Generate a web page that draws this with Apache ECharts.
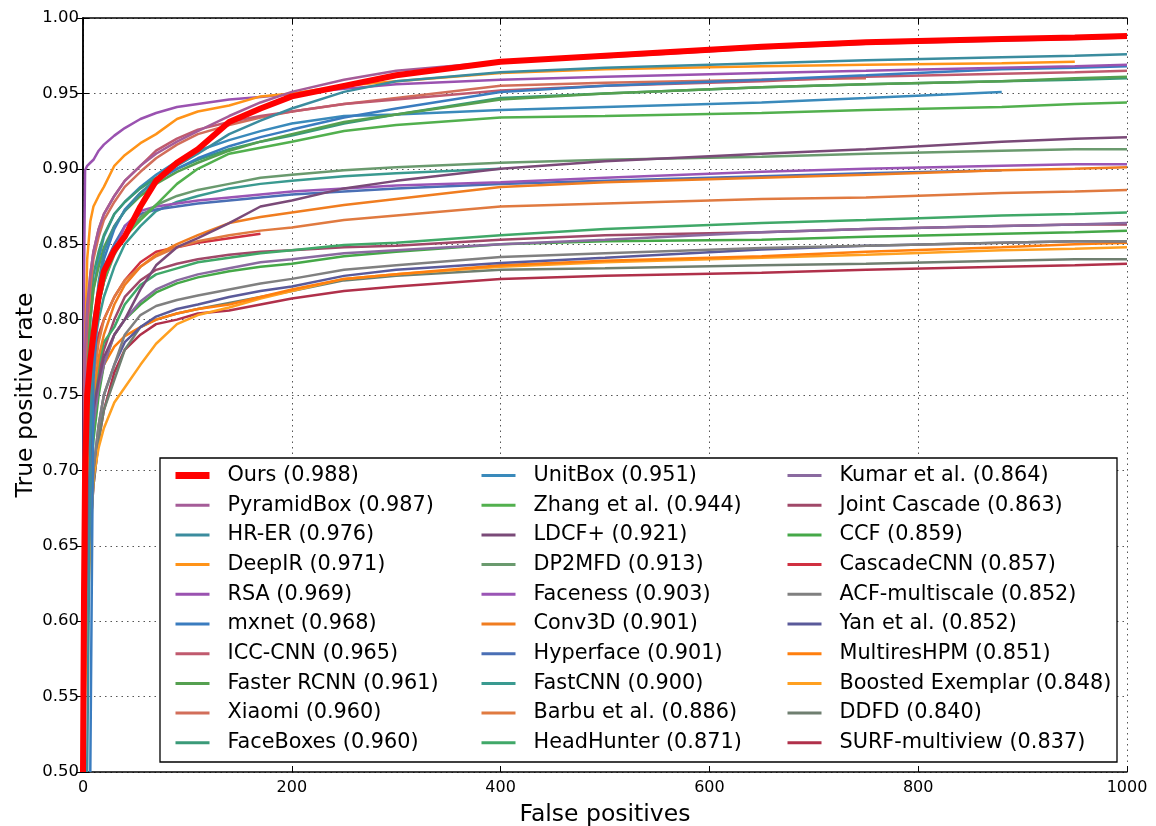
<!DOCTYPE html>
<html>
<head>
<meta charset="utf-8">
<script src="https://cdn.jsdelivr.net/npm/echarts@6/dist/echarts.min.js"></script>
<style>
html, body { margin: 0; padding: 0; background: #fff; }
#chart { width: 1156px; height: 826px; }
</style>
</head>
<body>
<div id="chart"></div>
<script>
var fpGrid = [0, 1, 2, 4, 7, 10, 15, 20, 30, 40, 55, 70, 90, 110, 140, 170, 200, 250, 300, 400, 500, 650, 750, 880, 950, 1000];

var methodNames = ['Ours', 'PyramidBox', 'HR-ER', 'DeepIR', 'RSA', 'mxnet', 'ICC-CNN', 'Faster RCNN', 'Xiaomi', 'FaceBoxes',
    'UnitBox', 'Zhang et al.', 'LDCF+', 'DP2MFD', 'Faceness', 'Conv3D', 'Hyperface', 'FastCNN', 'Barbu et al.', 'HeadHunter',
    'Kumar et al.', 'Joint Cascade', 'CCF', 'CascadeCNN', 'ACF-multiscale', 'Yan et al.', 'MultiresHPM', 'Boosted Exemplar', 'DDFD', 'SURF-multiview'];
var scores = ['0.988', '0.987', '0.976', '0.971', '0.969', '0.968', '0.965', '0.961', '0.960', '0.960',
    '0.951', '0.944', '0.921', '0.913', '0.903', '0.901', '0.901', '0.900', '0.886', '0.871',
    '0.864', '0.863', '0.859', '0.857', '0.852', '0.852', '0.851', '0.848', '0.840', '0.837'];
var colors = ['#ff0000', '#a55c98', '#3b8c9e', '#ff9318', '#9a52b0', '#3a7cbf', '#c05a6e', '#55a050', '#d26e5a', '#3a9a78',
    '#3a8abb', '#52b04e', '#7a4a78', '#6a9a6e', '#9a55b5', '#f07d20', '#4a6fb5', '#3a9a90', '#e07a40', '#40a868',
    '#8a6aa0', '#a04868', '#45a848', '#d03040', '#808080', '#5a5a9a', '#ff7f0e', '#ffa020', '#6f7f70', '#b0304a'];

var tprOurs        = [0.50, 0.62, 0.70, 0.75, 0.773, 0.79, 0.815, 0.832, 0.846, 0.855, 0.875, 0.892, 0.904, 0.913, 0.931, 0.940, 0.948, 0.955, 0.962, 0.971, 0.975, 0.981, 0.984, 0.986, 0.987, 0.988];
var tprPyramidBox  = [0.50, 0.72, 0.78, 0.81, 0.83, 0.845, 0.86, 0.87, 0.882, 0.892, 0.902, 0.91, 0.918, 0.925, 0.935, 0.944, 0.951, 0.959, 0.965, 0.971, 0.974, 0.980, 0.983, 0.985, 0.986, 0.987];
var tprHRER        = [null, null, null, 0.50, 0.72, 0.79, 0.825, 0.845, 0.862, 0.872, 0.884, 0.893, 0.902, 0.91, 0.923, 0.932, 0.94, 0.951, 0.958, 0.964, 0.967, 0.970, 0.972, 0.974, 0.975, 0.976];
var tprDeepIR      = [0.50, 0.70, 0.78, 0.84, 0.865, 0.875, 0.882, 0.888, 0.902, 0.909, 0.917, 0.923, 0.933, 0.938, 0.942, 0.948, 0.950, 0.955, 0.958, 0.9635, 0.966, 0.968, 0.969, 0.970, 0.971, null];
var tprRSA         = [0.50, 0.83, 0.899, 0.902, 0.904, 0.906, 0.912, 0.916, 0.922, 0.927, 0.933, 0.937, 0.941, 0.943, 0.946, 0.9476, 0.9496, 0.953, 0.956, 0.959, 0.961, 0.9635, 0.965, 0.967, 0.968, 0.969];
var tprMxnet       = [null, null, null, null, 0.50, 0.76, 0.815, 0.84, 0.86, 0.873, 0.884, 0.892, 0.90, 0.907, 0.915, 0.921, 0.926, 0.934, 0.94, 0.951, 0.955, 0.959, 0.962, 0.966, 0.967, 0.968];
var tprICCCNN      = [0.50, 0.70, 0.76, 0.80, 0.83, 0.845, 0.86, 0.87, 0.882, 0.892, 0.902, 0.912, 0.92, 0.926, 0.931, 0.935, 0.938, 0.943, 0.946, 0.952, 0.955, 0.958, 0.961, 0.963, 0.964, 0.965];
var tprFasterRCNN  = [0.50, 0.62, 0.70, 0.76, 0.80, 0.82, 0.835, 0.848, 0.862, 0.872, 0.882, 0.89, 0.898, 0.904, 0.912, 0.918, 0.923, 0.931, 0.936, 0.946, 0.950, 0.954, 0.956, 0.958, 0.960, 0.961];
var tprXiaomi      = [0.50, 0.68, 0.74, 0.79, 0.82, 0.84, 0.855, 0.866, 0.878, 0.888, 0.898, 0.907, 0.916, 0.923, 0.929, 0.934, 0.938, 0.943, 0.947, 0.955, 0.957, 0.959, 0.960, null, null, null];
var tprFaceBoxes   = [0.50, 0.64, 0.72, 0.78, 0.81, 0.83, 0.845, 0.856, 0.87, 0.878, 0.887, 0.894, 0.90, 0.906, 0.913, 0.918, 0.922, 0.93, 0.936, 0.947, 0.950, 0.954, 0.956, 0.958, 0.959, 0.960];
var tprUnitBox     = [0.50, 0.60, 0.68, 0.75, 0.80, 0.82, 0.84, 0.855, 0.87, 0.878, 0.888, 0.896, 0.905, 0.912, 0.919, 0.925, 0.93, 0.935, 0.936, 0.939, 0.941, 0.944, 0.947, 0.951, null, null];
var tprZhang       = [0.50, 0.60, 0.66, 0.72, 0.76, 0.785, 0.81, 0.825, 0.845, 0.855, 0.866, 0.876, 0.89, 0.90, 0.91, 0.914, 0.918, 0.925, 0.929, 0.934, 0.935, 0.937, 0.939, 0.941, 0.943, 0.944];
var tprLDCF        = [0.50, 0.55, 0.60, 0.66, 0.71, 0.74, 0.76, 0.775, 0.79, 0.80, 0.82, 0.836, 0.848, 0.854, 0.864, 0.875, 0.879, 0.887, 0.892, 0.900, 0.905, 0.910, 0.913, 0.918, 0.920, 0.921];
var tprDP2MFD      = [0.50, 0.60, 0.66, 0.72, 0.76, 0.79, 0.81, 0.825, 0.843, 0.855, 0.868, 0.876, 0.882, 0.886, 0.89, 0.894, 0.896, 0.899, 0.901, 0.904, 0.906, 0.908, 0.910, 0.912, 0.913, 0.913];
var tprFaceness    = [0.50, 0.60, 0.66, 0.72, 0.76, 0.79, 0.81, 0.825, 0.845, 0.862, 0.872, 0.875, 0.877, 0.879, 0.881, 0.883, 0.885, 0.887, 0.889, 0.891, 0.894, 0.898, 0.90, 0.902, 0.903, 0.903];
var tprConv3D      = [0.50, 0.56, 0.62, 0.68, 0.72, 0.75, 0.775, 0.79, 0.81, 0.823, 0.835, 0.843, 0.85, 0.856, 0.864, 0.868, 0.871, 0.876, 0.880, 0.888, 0.891, 0.894, 0.896, 0.899, 0.900, 0.901];
var tprHyperface   = [0.50, 0.60, 0.67, 0.73, 0.77, 0.80, 0.82, 0.835, 0.85, 0.862, 0.87, 0.873, 0.875, 0.877, 0.879, 0.881, 0.883, 0.885, 0.887, 0.890, 0.892, 0.895, 0.897, 0.899, null, null];
var tprFastCNN     = [0.50, 0.58, 0.64, 0.70, 0.75, 0.78, 0.80, 0.815, 0.835, 0.85, 0.862, 0.872, 0.878, 0.882, 0.887, 0.89, 0.892, 0.895, 0.897, 0.900, null, null, null, null, null, null];
var tprBarbu       = [0.50, 0.56, 0.62, 0.68, 0.73, 0.76, 0.785, 0.80, 0.815, 0.826, 0.835, 0.842, 0.848, 0.852, 0.856, 0.859, 0.861, 0.866, 0.869, 0.875, 0.877, 0.880, 0.881, 0.884, 0.885, 0.886];
var tprHeadHunter  = [0.50, 0.56, 0.61, 0.67, 0.72, 0.745, 0.77, 0.785, 0.795, 0.81, 0.823, 0.83, 0.834, 0.838, 0.841, 0.844, 0.846, 0.8495, 0.851, 0.856, 0.860, 0.864, 0.866, 0.869, 0.870, 0.871];
var tprKumar       = [0.50, 0.55, 0.60, 0.65, 0.70, 0.73, 0.755, 0.77, 0.79, 0.80, 0.812, 0.82, 0.826, 0.83, 0.834, 0.838, 0.84, 0.844, 0.846, 0.850, 0.853, 0.858, 0.860, 0.862, 0.863, 0.864];
var tprJoint       = [0.50, 0.55, 0.60, 0.66, 0.71, 0.74, 0.765, 0.78, 0.80, 0.815, 0.826, 0.833, 0.837, 0.84, 0.843, 0.845, 0.846, 0.848, 0.849, 0.853, 0.856, 0.858, 0.860, 0.862, 0.863, 0.863];
var tprCCF         = [0.50, 0.55, 0.60, 0.65, 0.69, 0.72, 0.75, 0.77, 0.79, 0.80, 0.81, 0.818, 0.824, 0.828, 0.832, 0.835, 0.837, 0.842, 0.845, 0.850, 0.852, 0.853, 0.855, 0.857, 0.858, 0.859];
var tprCascadeCNN  = [0.50, 0.56, 0.62, 0.69, 0.74, 0.77, 0.79, 0.80, 0.815, 0.826, 0.838, 0.845, 0.848, 0.851, 0.854, 0.857, null, null, null, null, null, null, null, null, null, null];
var tprACF         = [0.50, 0.54, 0.58, 0.63, 0.67, 0.70, 0.73, 0.75, 0.77, 0.79, 0.803, 0.809, 0.813, 0.816, 0.82, 0.824, 0.827, 0.833, 0.836, 0.8415, 0.844, 0.8475, 0.849, 0.851, 0.852, 0.852];
var tprYan         = [0.50, 0.54, 0.58, 0.63, 0.67, 0.70, 0.73, 0.75, 0.77, 0.785, 0.795, 0.802, 0.807, 0.81, 0.815, 0.819, 0.822, 0.829, 0.833, 0.8376, 0.841, 0.8465, 0.849, 0.851, 0.852, 0.852];
var tprMultiresHPM = [0.50, 0.55, 0.60, 0.65, 0.70, 0.73, 0.755, 0.77, 0.782, 0.789, 0.795, 0.80, 0.804, 0.807, 0.81, 0.815, 0.82, 0.827, 0.83, 0.836, 0.839, 0.842, 0.845, 0.848, 0.850, 0.851];
var tprBoosted     = [0.50, 0.52, 0.55, 0.60, 0.65, 0.695, 0.715, 0.728, 0.745, 0.755, 0.77, 0.784, 0.797, 0.803, 0.808, 0.814, 0.819, 0.827, 0.83, 0.835, 0.838, 0.841, 0.843, 0.846, 0.847, 0.848];
var tprDDFD        = [0.50, 0.54, 0.58, 0.62, 0.66, 0.69, 0.72, 0.74, 0.76, 0.78, 0.795, 0.80, 0.804, 0.807, 0.811, 0.815, 0.819, 0.826, 0.829, 0.833, 0.834, 0.836, 0.837, 0.839, 0.840, 0.840];
var tprSURF        = [0.50, 0.54, 0.58, 0.62, 0.66, 0.69, 0.72, 0.74, 0.765, 0.78, 0.79, 0.797, 0.80, 0.804, 0.806, 0.81, 0.814, 0.819, 0.822, 0.827, 0.829, 0.831, 0.833, 0.835, 0.836, 0.837];

var xTicks = [0, 200, 400, 600, 800, 1000];

var tprCurves = [tprOurs, tprPyramidBox, tprHRER, tprDeepIR, tprRSA, tprMxnet, tprICCCNN, tprFasterRCNN, tprXiaomi, tprFaceBoxes,
    tprUnitBox, tprZhang, tprLDCF, tprDP2MFD, tprFaceness, tprConv3D, tprHyperface, tprFastCNN, tprBarbu, tprHeadHunter,
    tprKumar, tprJoint, tprCCF, tprCascadeCNN, tprACF, tprYan, tprMultiresHPM, tprBoosted, tprDDFD, tprSURF];

var font = 'DejaVu Sans';
var labels = methodNames.map(function (n, i) { return n + ' (' + scores[i] + ')'; });

var series = [];
// draw the other methods first so that "Ours" ends up on top
for (var i = tprCurves.length - 1; i >= 0; i--) {
    var pts = [];
    tprCurves[i].forEach(function (v, k) {
        if (v !== null) pts.push([fpGrid[k], v]);
    });
    series.push({
        name: labels[i],
        type: 'line',
        data: pts,
        symbol: 'none',
        showSymbol: false,
        smooth: false,
        z: i === 0 ? 5 : 3,
        lineStyle: { color: colors[i], width: i === 0 ? 6 : 2.5 },
        itemStyle: { color: colors[i] },
        emphasis: { disabled: true }
    });
}

function makeLegend(from, left) {
    return {
        show: true,
        orient: 'vertical',
        left: left,
        top: 465,
        z: 30,
        itemWidth: 34,
        itemHeight: 12,
        itemGap: 8.7,
        padding: 0,
        selectedMode: false,
        itemStyle: { opacity: 0 },
        lineStyle: { width: 3 },
        data: labels.slice(from, from + 10).map(function (l, k) {
            return from + k === 0 ? { name: l, lineStyle: { width: 7 } } : { name: l };
        }),
        textStyle: { fontFamily: font, fontSize: 20.8, color: '#000', padding: [0, 0, 0, 13] }
    };
}

var myChart = echarts.init(document.getElementById('chart'));
var option = {
    animation: false,
    backgroundColor: '#fff',
    grid: { left: 83, right: 29, top: 18, bottom: 54, containLabel: false, outerBoundsMode: 'none' },
    xAxis: [
        {
            type: 'value',
            min: 0, max: 1000, interval: 200,
            name: 'False positives',
            nameLocation: 'middle',
            nameGap: 31,
            nameMoveOverlap: false,
            nameTextStyle: { fontFamily: font, fontSize: 23.5, color: '#000' },
            axisLine: { show: true, lineStyle: { color: '#000', width: 1.5 } },
            axisTick: { show: true, inside: true, length: 6, lineStyle: { color: '#000' } },
            axisLabel: { fontFamily: font, fontSize: 16, color: '#000', margin: 8,
                formatter: function (v) { return xTicks.indexOf(v) >= 0 ? String(v) : ''; } },
            splitLine: { show: true, lineStyle: { color: '#555', width: 1, type: [1.5, 4] } }
        },
        {
            type: 'value', position: 'top',
            min: 0, max: 1000, interval: 200,
            axisLine: { show: true, lineStyle: { color: '#000', width: 1.5 } },
            axisTick: { show: true, inside: true, length: 6, lineStyle: { color: '#000' } },
            axisLabel: { show: false },
            splitLine: { show: false }
        }
    ],
    yAxis: [
        {
            type: 'value',
            min: 0.5, max: 1.0, interval: 0.05,
            name: 'True positive rate',
            nameLocation: 'middle',
            nameGap: 45,
            nameMoveOverlap: false,
            nameTextStyle: { fontFamily: font, fontSize: 23.5, color: '#000' },
            axisLine: { show: true, lineStyle: { color: '#000', width: 1.5 } },
            axisTick: { show: true, inside: true, length: 6, lineStyle: { color: '#000' } },
            axisLabel: { fontFamily: font, fontSize: 16.5, color: '#000', margin: 4,
                formatter: function (v) { return v.toFixed(2); } },
            splitLine: { show: true, lineStyle: { color: '#555', width: 1, type: [1.5, 4] } }
        },
        {
            type: 'value', position: 'right',
            min: 0.5, max: 1.0, interval: 0.05,
            axisLine: { show: true, lineStyle: { color: '#000', width: 1.5 } },
            axisTick: { show: true, inside: true, length: 6, lineStyle: { color: '#000' } },
            axisLabel: { show: false },
            splitLine: { show: false }
        }
    ],
    legend: [makeLegend(0, 172), makeLegend(10, 480), makeLegend(20, 786)],
    graphic: [{
        type: 'rect',
        z: 20,
        shape: { x: 160, y: 458, width: 957, height: 304 },
        style: { fill: '#fff', stroke: '#000', lineWidth: 1.3 }
    }],
    series: series
};
myChart.setOption(option);
</script>
</body>
</html>
